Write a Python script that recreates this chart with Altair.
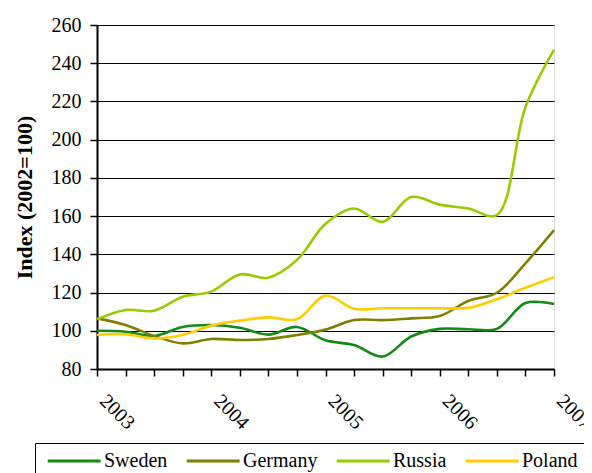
import altair as alt
import pandas as pd

# Quarterly index (2002=100), 2003 Q1 .. 2007 Q1
quarters = list(range(17))
year_labels = ["2003", "2004", "2005", "2006", "2007"]
year_positions = [0, 4, 8, 12, 16]

sweden = [100, 99.5, 97.3, 102, 103, 101.6, 98, 102, 95, 92.5, 86.5, 97, 101, 100.8, 101, 114.5, 114]
germany = [106.5, 103, 97.3, 93.4, 95.7, 95.2, 95.7, 97.8, 100.6, 105.6, 105.6, 106.5, 107.7, 115.6, 119.9, 135.3, 152.7]
russia = [106, 110.9, 110.5, 117.8, 120.5, 129.5, 127.8, 137, 156, 164, 157, 170, 166, 164, 160.5, 217, 247]
poland = [97.8, 98.2, 96, 97.8, 102.7, 105.3, 107, 106, 118.4, 111.5, 111.8, 111.8, 111.8, 112, 116.5, 122.5, 128]

series = ["Sweden", "Germany", "Russia", "Poland"]
colors = ["#138a13", "#808000", "#99cc00", "#ffcc00"]

rows = []
for name, vals in zip(series, [sweden, germany, russia, poland]):
    for q, v in zip(quarters, vals):
        rows.append({"q": q, "value": v, "country": name})
df = pd.DataFrame(rows)
years_df = pd.DataFrame({"q": year_positions, "year": year_labels, "value": [80] * 5})

FONT = "Liberation Serif"

xscale = alt.Scale(domain=[0, 16], nice=False, zero=False)
yscale = alt.Scale(domain=[80, 260], nice=False, zero=False)

xaxis = alt.Axis(values=quarters, labels=False,
                 tickSize=7, tickColor="black", tickWidth=1.5,
                 domainColor="black", domainWidth=2, grid=False, title=None)
yaxis = alt.Axis(values=list(range(80, 261, 20)), grid=True, gridColor="black",
                 gridWidth=1, tickSize=7, tickColor="black", tickWidth=1.5,
                 domainColor="black", domainWidth=2,
                 labelFont=FONT, labelFontSize=20, labelColor="black",
                 labelPadding=9,
                 title="Index (2002=100)", titleFont=FONT, titleFontSize=22,
                 titleFontWeight="bold", titleColor="black", titlePadding=15)

lines = alt.Chart(df).mark_line(strokeWidth=2.6, interpolate="catmull-rom").encode(
    x=alt.X("q:Q", scale=xscale, axis=xaxis),
    y=alt.Y("value:Q", scale=yscale, axis=yaxis),
    color=alt.Color("country:N",
                    scale=alt.Scale(domain=series, range=colors),
                    legend=alt.Legend(orient="none", legendX=-62, legendY=418,
                                      direction="horizontal", title=None,
                                      symbolType="M-1,0H9", symbolSize=112,
                                      symbolStrokeWidth=3, labelFont=FONT,
                                      labelFontSize=20, labelColor="black",
                                      labelOffset=41, columnPadding=12,
                                      strokeColor="black", padding=8)),
)

year_text = alt.Chart(years_df).mark_text(
    angle=45, align="left", baseline="middle", dx=24.7, dy=16.3,
    font=FONT, fontSize=20, color="black",
).encode(
    x=alt.X("q:Q", scale=xscale, axis=xaxis),
    y=alt.Y("value:Q", scale=yscale, axis=yaxis),
    text="year:N",
)

chart = alt.layer(lines, year_text).properties(
    width=457, height=344,
    autosize=alt.AutoSizeParams(type="none"),
    padding={"left": 89, "top": 17, "right": 30, "bottom": 109},
).configure_view(stroke="#888888", strokeWidth=2).configure(background="white")

chart.save("out.html", embed_options={"renderer": "svg", "actions": False})
